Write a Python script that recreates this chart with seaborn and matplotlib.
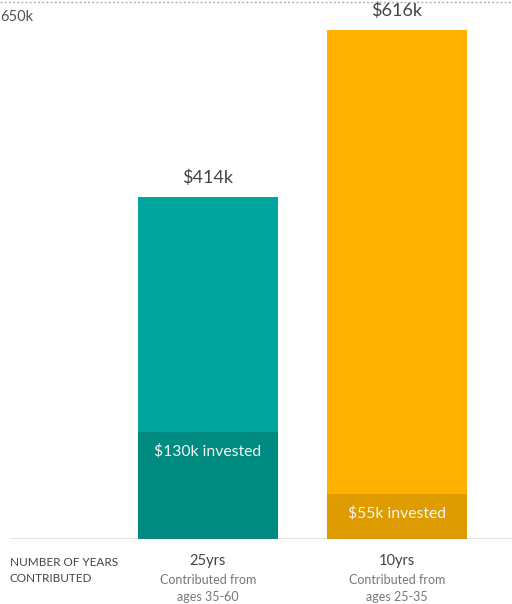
import matplotlib
matplotlib.use("Agg")
import matplotlib.pyplot as plt
import seaborn as sns
import pandas as pd

# Savings scenarios: total balance vs. amount actually invested (in $k)
scenarios = ["25yrs", "10yrs"]
total_value = [414, 616]
invested = [130, 55]
age_ranges = ["ages 35-60", "ages 25-35"]
axis_top = 650

total_colors = ["#00a69b", "#ffb000"]
invested_colors = ["#008b80", "#df9c00"]

sns.set_theme(style="white")
plt.rcParams["font.family"] = ["Lato", "DejaVu Sans"]

df = pd.DataFrame({"scenario": scenarios, "total": total_value, "invested": invested})

fig = plt.figure(figsize=(5.12, 6.04), dpi=100)
ax = fig.add_axes([0.0, 65 / 604, 1.0, 537 / 604])

bar_w = 140 / 189
sns.barplot(data=df, x="scenario", y="total", hue="scenario", palette=total_colors,
            width=bar_w, legend=False, ax=ax, saturation=1, linewidth=0)
sns.barplot(data=df, x="scenario", y="invested", hue="scenario", palette=invested_colors,
            width=bar_w, legend=False, ax=ax, saturation=1, linewidth=0)

ax.set_xlim(-208 / 189, (512 - 208) / 189)
ax.set_ylim(0, axis_top)
for s in ax.spines.values():
    s.set_visible(False)
ax.set_xticks([])
ax.set_yticks([])
ax.set_xlabel("")
ax.set_ylabel("")

# top reference line and its label
ax.axhline(axis_top, color="#b0b0b0", lw=1, ls=(0, (1.5, 1.5)), clip_on=False)
fig.text(0.0, 1 - 17 / 604, "650k", fontsize=10.5, color="#555555",
         ha="left", va="center")

# baseline
ax.axhline(0, xmin=10 / 512, xmax=1, color="#7a7a7a", lw=1)

for i, (tot, inv) in enumerate(zip(total_value, invested)):
    ax.annotate(f"${tot}k", (i, tot), xytext=(0, 8), textcoords="offset points",
                ha="center", va="bottom", fontsize=13, color="#444444")
    ax.annotate(f"${inv}k invested", (i, inv), xytext=(0, -14),
                textcoords="offset points", ha="center", va="center",
                fontsize=11.3, color="#f4f4f4")

# category captions under the baseline
trans = ax.get_xaxis_transform()
for i, (lab, ages) in enumerate(zip(scenarios, age_ranges)):
    ax.text(i, -22 / 537, lab, transform=trans, ha="center", va="center",
            fontsize=10.5, color="#444444")
    ax.text(i, -41 / 537, "Contributed from", transform=trans, ha="center",
            va="center", fontsize=9, color="#777777")
    ax.text(i, -58 / 537, ages, transform=trans, ha="center", va="center",
            fontsize=9, color="#777777")

fig.text(10 / 512, 1 - 562 / 604, "NUMBER OF YEARS", fontsize=8.5,
         color="#444444", ha="left", va="center")
fig.text(10 / 512, 1 - 578 / 604, "CONTRIBUTED", fontsize=8.5,
         color="#444444", ha="left", va="center")

fig.savefig("out.png", dpi=100)
